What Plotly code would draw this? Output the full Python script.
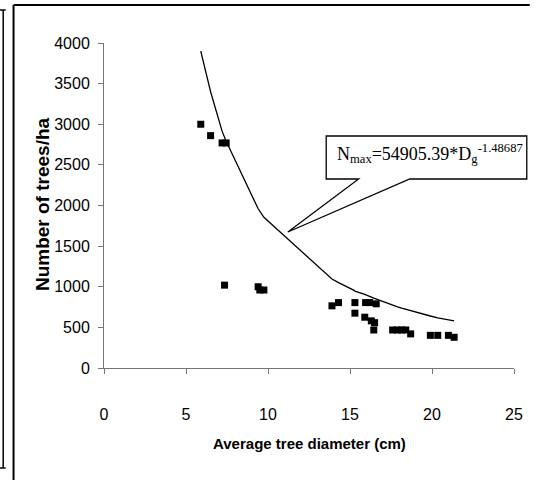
import plotly.graph_objects as go

# Observed stands (average diameter, cm ; trees per ha)
diameter = [5.9, 6.5, 7.2, 7.45, 7.35, 9.4, 9.5, 9.75, 13.9, 14.3, 15.3, 15.3,
            15.95, 16.2, 16.6, 15.9, 16.3, 16.5, 16.45, 17.6, 17.9, 18.15, 18.4,
            18.7, 19.9, 20.35, 21.0, 21.35]
trees = [3000, 2860, 2770, 2770, 1020, 1000, 960, 960, 765, 805, 805, 675,
         805, 805, 790, 625, 580, 558, 468, 468, 468, 468, 468,
         420, 402, 402, 402, 378]

# Maximum density line as drawn
line_d = [5.9, 6.5, 7.2, 7.35, 7.45, 9.4, 9.5, 9.75, 13.9, 14.3, 15.25, 15.3,
          15.9, 15.95, 16.2, 16.3, 16.45, 16.5, 16.6, 17.6, 17.9, 18.15, 18.4,
          18.7, 19.9, 20.35, 21.0, 21.35]
line_n = [3900, 3400, 2915, 2840, 2790, 1960, 1930, 1855, 1095, 1050, 955, 945,
          905, 900, 880, 872, 860, 856, 848, 772, 752, 736, 721,
          705, 640, 618, 590, 580]

x_ticks = [0, 5, 10, 15, 20, 25]
y_ticks = [0, 500, 1000, 1500, 2000, 2500, 3000, 3500, 4000]

W, H = 535, 480
L, R, T, B = 104, 521, 43, 368


def px(p):
    return (p - L) / (R - L)


def py(p):
    return (B - p) / (B - T)


sans = "Liberation Sans, Arial, sans-serif"

fig = go.Figure()
fig.add_trace(go.Scatter(x=line_d, y=line_n, mode="lines",
                         line=dict(color="black", width=1.3),
                         showlegend=False, hoverinfo="skip"))
fig.add_trace(go.Scatter(x=diameter, y=trees, mode="markers",
                         marker=dict(symbol="square", size=7, color="black"),
                         showlegend=False))

axis_common = dict(showgrid=False, zeroline=False, showline=True,
                   linecolor="#777777", linewidth=1, ticks="outside",
                   ticklen=5, tickcolor="#777777", tickwidth=1,
                   tickfont=dict(family=sans, size=16, color="black"))

fig.update_layout(
    width=W, height=H,
    margin=dict(l=L, r=W - R, t=T, b=H - B),
    paper_bgcolor="white", plot_bgcolor="white",
    xaxis=dict(range=[0, 25], tickvals=x_ticks, ticklabelstandoff=27,
               **axis_common),
    yaxis=dict(range=[0, 4000], tickvals=y_ticks, ticklabelstandoff=5,
               **axis_common),
)

# callout box with pointer
path = (f"M {px(330)},{py(136)} L {px(534)},{py(136)} L {px(534)},{py(179)} "
        f"L {px(415)},{py(179)} L {px(291)},{py(232)} L {px(363)},{py(179)} "
        f"L {px(330)},{py(179)} Z")
shapes = [
    dict(type="path", xref="paper", yref="paper", path=path,
         fillcolor="white", line=dict(color="black", width=1.3)),
    # main frame
    dict(type="line", xref="paper", yref="paper", x0=px(12), x1=px(12),
         y0=py(5), y1=py(482), line=dict(color="black", width=2)),
    dict(type="line", xref="paper", yref="paper", x0=px(12), x1=px(537),
         y0=py(5), y1=py(5), line=dict(color="black", width=2)),
    # neighbouring panel edge
    dict(type="line", xref="paper", yref="paper", x0=px(1.5), x1=px(1.5),
         y0=py(10), y1=py(468), line=dict(color="black", width=1.5)),
    dict(type="line", xref="paper", yref="paper", x0=px(-2), x1=px(4),
         y0=py(10), y1=py(10), line=dict(color="black", width=1.5)),
    dict(type="line", xref="paper", yref="paper", x0=px(-2), x1=px(4),
         y0=py(468), y1=py(468), line=dict(color="black", width=1.5)),
]
fig.update_layout(shapes=shapes)

fig.add_annotation(xref="paper", yref="paper", x=px(339), y=py(153),
                   xanchor="left", yanchor="middle", showarrow=False,
                   text="N<sub>max</sub>=54905.39*D<sub>g</sub><sup>-1.48687</sup>",
                   font=dict(family="Liberation Serif, Times New Roman, serif",
                             size=18, color="black"))
fig.add_annotation(xref="paper", yref="paper", x=px(313), y=py(443),
                   xanchor="center", yanchor="middle", showarrow=False,
                   text="<b>Average tree diameter (cm)</b>",
                   font=dict(family=sans, size=15, color="black"))
fig.add_annotation(xref="paper", yref="paper", x=px(41), y=py(204),
                   xanchor="center", yanchor="middle", showarrow=False,
                   textangle=-90, text="<b>Number of trees/ha</b>",
                   font=dict(family=sans, size=19, color="black"))

fig.write_html("out.html")
